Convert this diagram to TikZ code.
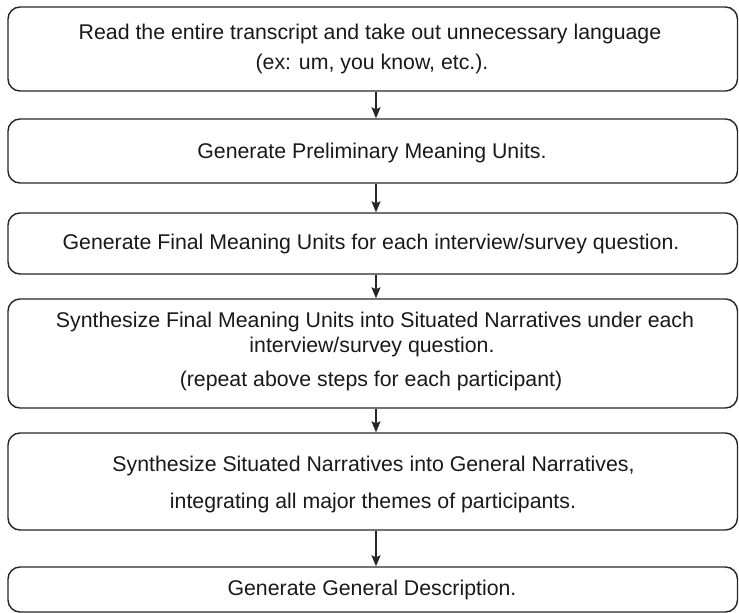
\documentclass[tikz,border=0pt]{standalone}
\usepackage{fontspec}
\setmainfont{Liberation Sans}
\usetikzlibrary{arrows.meta}
\begin{document}
\begin{tikzpicture}[x=1pt,y=-1pt,
  box/.style={draw=black!85, line width=1.4pt, rounded corners=12pt, inner sep=0pt},
  txt/.style={anchor=base, inner sep=0pt, text=black!90, font=\fontsize{21.3}{25}\selectfont},
  arr/.style={draw=black!85, line width=1.3pt, -{Stealth[length=11pt,width=9pt,inset=2pt]}}]
\useasboundingbox (0,0) rectangle (739,613);
% boxes
\node[box, minimum width=729.5pt, minimum height=84pt] (b1) at (372.75,49) {};
\node[box, minimum width=729.5pt, minimum height=64pt] (b2) at (372.75,151) {};
\node[box, minimum width=729.5pt, minimum height=61pt] (b3) at (372.75,243.5) {};
\node[box, minimum width=729.5pt, minimum height=109pt] (b4) at (372.75,353.5) {};
\node[box, minimum width=729.5pt, minimum height=97pt] (b5) at (372.75,481.5) {};
\node[box, minimum width=729.5pt, minimum height=45pt] (b6) at (372.75,589.5) {};
% texts
\node[txt] (t1a) at (370,39) {Read the entire transcript and take out unnecessary language};
\node[txt] (t1b) at (372,69.5) {(ex: um, you know, etc.).};
\node[txt] (t2) at (372,158) {Generate Preliminary Meaning Units.};
\node[txt] (t3) at (371,249) {Generate Final Meaning Units for each interview/survey question.};
\node[txt] (t4a) at (375,327) {Synthesize Final Meaning Units into Situated Narratives under each};
\node[txt] (t4b) at (372,352) {interview/survey question.};
\node[txt] (t4c) at (371,386) {(repeat above steps for each participant)};
\node[txt] (t5a) at (373.5,471) {Synthesize Situated Narratives into General Narratives,};
\node[txt] (t5b) at (373,508) {integrating all major themes of participants.};
\node[txt] (t6) at (372,595) {Generate General Description.};
% arrows
\coordinate (ax) at (376,0);
\draw[arr] (b1.south -| ax) -- (b2.north -| ax);
\draw[arr] (b2.south -| ax) -- (b3.north -| ax);
\draw[arr] (b3.south -| ax) -- (b4.north -| ax);
\draw[arr] (b4.south -| ax) -- (b5.north -| ax);
\draw[arr] (b5.south -| ax) -- (b6.north -| ax);
\end{tikzpicture}
\end{document}
